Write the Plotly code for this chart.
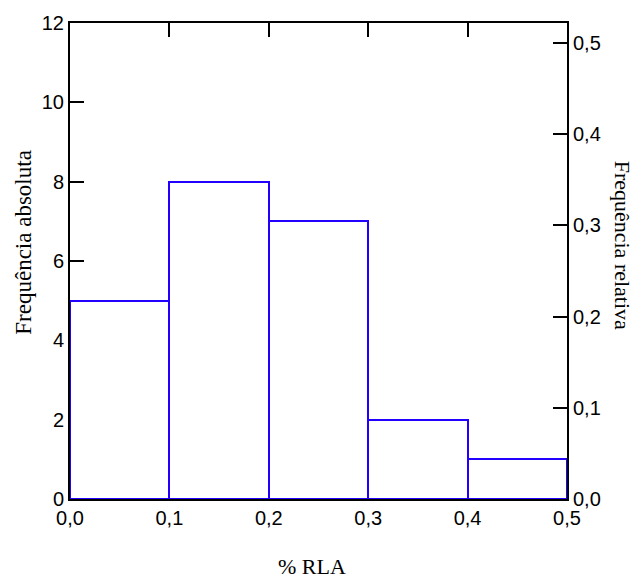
import plotly.graph_objects as go

bin_left = [0.0, 0.1, 0.2, 0.3, 0.4]
counts = [5, 8, 7, 2, 1]
bin_width = 0.1
total = sum(counts)

centers = [b + bin_width / 2 for b in bin_left]
rel = [c / total for c in counts]
blue = "#2200FF"

fig = go.Figure()
fig.add_trace(go.Bar(
    x=centers, y=counts, width=[bin_width] * len(counts),
    marker=dict(color="white", line=dict(color=blue, width=2)),
    showlegend=False, hoverinfo="skip",
))
fig.add_trace(go.Scatter(
    x=centers, y=rel, yaxis="y2", mode="markers",
    marker=dict(opacity=0), showlegend=False, hoverinfo="skip",
))

tickfont = dict(family="Liberation Sans, Arial", size=20, color="black")
titlefont = dict(family="Liberation Serif, Times New Roman", size=22, color="black")
common = dict(ticks="inside", ticklen=14, tickwidth=2, tickcolor="black",
              showline=True, linecolor="black", linewidth=2,
              showgrid=False, zeroline=False, tickfont=tickfont, layer="below traces")
fig.update_layout(
    width=635, height=579,
    margin=dict(l=70, r=68, t=16, b=80),
    paper_bgcolor="white", plot_bgcolor="white",
    separators=",.",
    bargap=0,
    xaxis=dict(range=[0, 0.5], tickvals=[0, 0.1, 0.2, 0.3, 0.4, 0.5], tickformat=".1f",
               mirror="ticks", **common),
    yaxis=dict(range=[0, 12], tickvals=[0, 2, 4, 6, 8, 10, 12], **common),
    yaxis2=dict(overlaying="y", side="right", range=[0, 12 / total],
                tickvals=[0, 0.1, 0.2, 0.3, 0.4, 0.5], tickformat=".1f", **common),
    annotations=[
        dict(text="Frequência absoluta", xref="paper", yref="paper", x=-0.093, y=0.54,
             textangle=-90, showarrow=False, xanchor="center", yanchor="middle",
             font=dict(family="Liberation Serif, Times New Roman", size=23, color="black")),
        dict(text="Frequência relativa", xref="paper", yref="paper", x=1.111, y=0.534,
             textangle=90, showarrow=False, xanchor="center", yanchor="middle",
             font=titlefont),
        dict(text="% RLA", xref="paper", yref="paper", x=0.487, y=-0.142,
             showarrow=False, xanchor="center", yanchor="middle",
             font=titlefont, borderpad=0),
    ],
)

fig.write_html("out.html", config={"displayModeBar": False},
               post_script="document.body.style.margin='0';")
